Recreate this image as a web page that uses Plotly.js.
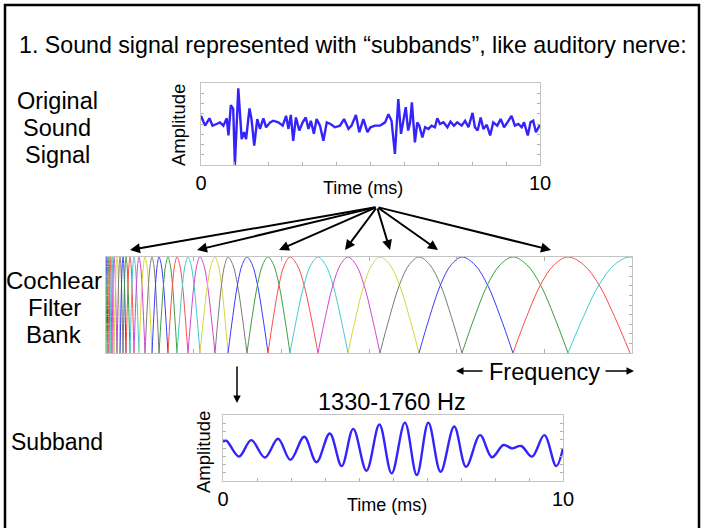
<!DOCTYPE html>
<html>
<head>
<meta charset="utf-8">
<script src="https://cdn.plot.ly/plotly-3.0.1.min.js"></script>
<style>html,body{margin:0;padding:0;background:#fff;}#chart{width:705px;height:528px;}</style>
</head>
<body>
<div id="chart"></div>
<script>
// ---------- DATA ----------
// Original sound signal (time in ms, amplitude in relative units)
const sigT = [0.00,0.12,0.25,0.34,0.46,0.56,0.66,0.76,0.81,0.88,
  0.95,1.00,1.10,1.20,1.27,1.33,1.43,1.49,1.57,1.66,
  1.74,1.84,1.92,2.04,2.13,2.28,2.41,2.51,2.58,2.65,
  2.72,2.80,2.90,3.00,3.09,3.17,3.24,3.33,3.41,3.51,
  3.61,3.71,3.82,3.95,4.10,4.22,4.35,4.44,4.57,4.67,
  4.79,4.91,5.00,5.13,5.28,5.43,5.53,5.62,5.72,5.82,
  5.90,5.97,6.04,6.11,6.17,6.22,6.31,6.38,6.44,6.53,
  6.61,6.71,6.80,6.90,6.97,7.05,7.15,7.27,7.36,7.46,
  7.56,7.69,7.79,7.89,8.01,8.08,8.16,8.25,8.33,8.43,
  8.53,8.62,8.74,8.84,8.94,9.04,9.16,9.26,9.36,9.46,
  9.53,9.64,9.72,9.80,9.88,10.00];
const sigA = [0.20,-0.04,0.14,-0.04,0.00,0.04,-0.04,0.14,-0.28,0.46,
  0.37,-1.00,0.87,-0.37,-0.20,-0.37,0.38,0.12,-0.53,0.12,
  -0.12,0.14,-0.08,0.04,0.08,0.04,-0.04,0.20,-0.12,0.22,
  -0.41,0.16,-0.16,0.04,0.16,-0.12,0.08,-0.24,0.12,-0.04,
  -0.41,0.04,0.00,-0.08,-0.04,0.12,-0.12,-0.04,0.22,-0.20,
  0.12,-0.20,-0.08,-0.04,-0.04,0.04,0.24,0.08,-0.73,0.61,
  -0.24,0.04,0.41,-0.16,0.04,0.53,-0.45,0.04,-0.04,-0.33,
  -0.08,-0.12,-0.04,-0.08,0.14,0.00,0.04,-0.08,0.06,-0.04,
  0.04,-0.04,0.08,-0.08,0.27,-0.08,-0.16,0.16,-0.12,-0.02,
  -0.28,0.04,-0.04,0.12,-0.08,0.04,0.20,-0.04,0.00,-0.08,
  0.04,-0.28,0.04,0.08,-0.20,-0.02];

// Subband (1330-1760 Hz) signal: extrema
const subT = [0.00,0.10,0.47,0.83,1.23,1.62,1.98,2.39,2.75,3.14,
  3.49,3.83,4.22,4.60,4.96,5.35,5.70,6.04,6.40,6.80,
  7.15,7.56,7.91,8.25,8.50,8.77,9.09,9.45,9.80,10.00];
const subA = [0.19,0.22,-0.26,0.24,-0.29,0.28,-0.36,0.34,-0.43,0.44,
  -0.55,0.58,-0.69,0.71,-0.77,0.77,-0.82,0.77,-0.72,0.65,
  -0.57,0.39,-0.28,0.09,-0.01,0.06,-0.26,0.39,-0.55,-0.01];

// Cochlear filter bank: centre positions on the frequency axis (axis units 0-6)
const fbCenters = [0.000,0.023,0.046,0.068,0.091,0.125,0.160,0.194,0.228,0.274,
  0.319,0.376,0.445,0.525,0.605,0.707,0.810,0.935,1.072,1.243,
  1.392,1.608,1.848,2.099,2.418,2.760,3.125,3.570,4.061,4.642,
  5.270,5.977];
const fbLowEdge = -0.03, fbHighEdge = 6.7;
// Half-cosine filter profile (fraction of half width -> gain)
const profFrac = [0, 0.25, 0.5, 0.75, 1];
const profGain = [1, 0.92, 0.71, 0.38, 0];

const timeTicks = [0,1,2,3,4,5,6,7,8,9,10];
const timeTickText = ['0','','','','','','','','','','10'];

// ---------- STYLE ----------
const W = 705, H = 528;
const FONT = 'Liberation Sans, Arial, Helvetica, sans-serif';
const fbPalette = ['#3a3aff','#3d9d3d','#ff4b4b','#40cccc','#d444d4','#d6d63c','#7a7a7a'];
const sigColor = 'rgb(52,36,250)';
const px = x => x / W;
const py = y => 1 - y / H;

const traces = [];
traces.push({x: sigT, y: sigA, xaxis: 'x', yaxis: 'y', mode: 'lines',
  line: {color: sigColor, width: 2.4}, hoverinfo: 'skip'});

for (let i = 0; i < fbCenters.length; i++) {
  const c = fbCenters[i];
  const lo = i > 0 ? fbCenters[i-1] : fbLowEdge;
  const hi = i < fbCenters.length - 1 ? fbCenters[i+1] : fbHighEdge;
  const xs = [], ys = [];
  for (let k = profFrac.length - 1; k >= 0; k--) { xs.push(c - profFrac[k] * (c - lo)); ys.push(profGain[k]); }
  for (let k = 1; k < profFrac.length; k++) { xs.push(c + profFrac[k] * (hi - c)); ys.push(profGain[k]); }
  traces.push({x: xs, y: ys, xaxis: 'x2', yaxis: 'y2', mode: 'lines',
    line: {color: fbPalette[i % 7], width: 1, shape: 'spline'}, hoverinfo: 'skip'});
}

traces.push({x: subT, y: subA, xaxis: 'x3', yaxis: 'y3', mode: 'lines',
  line: {color: sigColor, width: 2.4, shape: 'spline', smoothing: 1.0}, hoverinfo: 'skip'});

const frameAx = {showline: true, linecolor: '#c4c4c4', linewidth: 1, ticks: 'inside',
  ticklen: 3, tickcolor: '#b0b0b0', showgrid: false, zeroline: false, fixedrange: true};

const layout = {
  width: W, height: H, margin: {l: 0, r: 0, t: 0, b: 0},
  paper_bgcolor: '#fff', plot_bgcolor: '#fff', showlegend: false,
  font: {family: FONT, color: '#000'},
  xaxis: Object.assign({}, frameAx, {domain: [px(201), px(540)], range: [0, 10],
    tickvals: timeTicks, ticktext: timeTickText, mirror: true, tickfont: {size: 20, family: FONT},
    anchor: 'y'}),
  yaxis: Object.assign({}, frameAx, {domain: [py(165), py(83)], range: [-1, 1], dtick: 0.25,
    showticklabels: false, mirror: 'ticks', anchor: 'x'}),
  xaxis2: Object.assign({}, frameAx, {domain: [px(106), px(632)], range: [0, 6], dtick: 1,
    showticklabels: false, mirror: 'ticks', anchor: 'y2', ticklen: 4}),
  yaxis2: Object.assign({}, frameAx, {domain: [py(353), py(257)], range: [0, 1], dtick: 0.1,
    showticklabels: false, mirror: 'ticks', anchor: 'x2'}),
  xaxis3: Object.assign({}, frameAx, {domain: [px(223), px(563)], range: [0, 10],
    tickvals: timeTicks, ticktext: timeTickText, mirror: true, tickfont: {size: 20, family: FONT},
    anchor: 'y3'}),
  yaxis3: Object.assign({}, frameAx, {domain: [py(481), py(415)], range: [-1, 1], dtick: 0.25,
    showticklabels: false, mirror: 'ticks', anchor: 'x3'}),
  shapes: [
    {type: 'rect', xref: 'paper', yref: 'paper', x0: px(5), x1: px(699), y0: py(532), y1: py(5),
     line: {color: '#000', width: 2.5}, fillcolor: 'rgba(0,0,0,0)', layer: 'above'}
  ],
  annotations: []
};

function txt(text, x, y, size, opts) {
  layout.annotations.push(Object.assign({text: text, x: px(x), y: py(y), xref: 'paper', yref: 'paper',
    showarrow: false, xanchor: 'center', yanchor: 'middle', font: {size: size, family: FONT, color: '#000'}}, opts || {}));
}
function arrow(x0, y0, x1, y1, w, head) {
  layout.annotations.push({text: '', x: px(x1), y: py(y1), xref: 'paper', yref: 'paper',
    ax: x0 - x1, ay: y0 - y1, axref: 'pixel', ayref: 'pixel', showarrow: true,
    arrowhead: head || 2, arrowsize: 1, arrowwidth: w, arrowcolor: '#000', standoff: 0, startstandoff: 0});
}

txt('1. Sound signal represented with \u201csubbands\u201d, like auditory nerve:', 353, 45, 23.2);
txt('Original', 57, 101, 23.5);
txt('Sound', 57, 128, 23.5);
txt('Signal', 57, 155, 23.5);
txt('Amplitude', 178, 125, 18.5, {textangle: -90});
txt('Time (ms)', 363, 188, 18);
txt('Cochlear', 54, 280, 24);
txt('Filter', 54, 307, 24);
txt('Bank', 54, 334, 24);
txt('Frequency', 544, 372, 23.5);
txt('Subband', 9, 442, 23, {xanchor: 'left'});
txt('1330-1760 Hz', 392, 402, 23.5);
txt('Amplitude', 203, 452, 18.5, {textangle: -90});
txt('Time (ms)', 387, 505, 18);

const fanTips = [130, 197, 279, 345, 390, 438, 551];
fanTips.forEach(t => arrow(377, 207, t, 250, 2, 2));
arrow(237, 365, 237, 403, 1.5, 2);
arrow(484, 371, 456, 371, 1.5, 2);
arrow(604, 371, 634, 371, 1.5, 2);

Plotly.newPlot('chart', traces, layout, {displayModeBar: false, staticPlot: true});
</script>
</body>
</html>
